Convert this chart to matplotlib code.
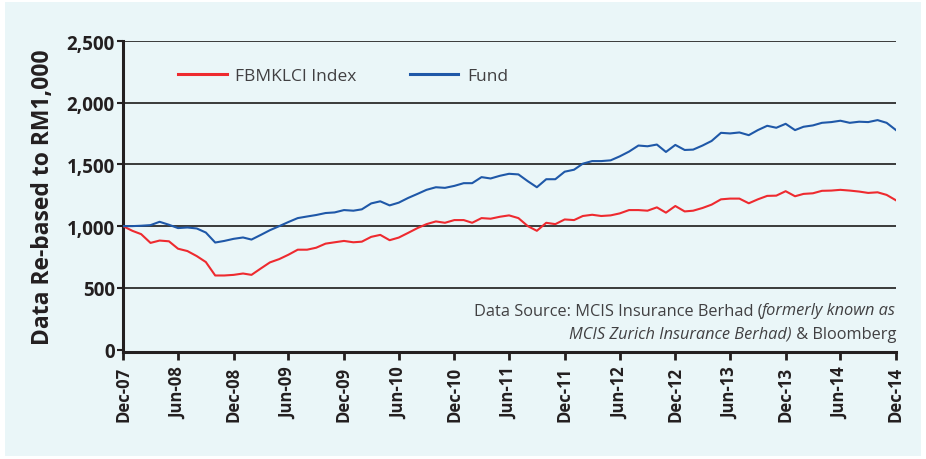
import matplotlib
matplotlib.use("Agg")
import matplotlib.pyplot as plt
from matplotlib.patches import Rectangle
import pandas as pd

# monthly values, Dec-07 .. Dec-14, re-based to RM1,000
fund = [1000, 1000, 1003, 1008, 1035, 1011, 984, 989, 981, 948,
        867, 880, 897, 908, 891, 929, 967, 1000, 1033, 1065,
        1078, 1090, 1106, 1111, 1130, 1125, 1136, 1184, 1201, 1168,
        1190, 1228, 1261, 1294, 1315, 1310, 1326, 1348, 1348, 1397,
        1386, 1408, 1424, 1419, 1364, 1315, 1380, 1380, 1441, 1457,
        1506, 1527, 1527, 1533, 1565, 1604, 1653, 1647, 1661, 1601,
        1658, 1617, 1620, 1653, 1690, 1756, 1751, 1759, 1737, 1778,
        1813, 1797, 1829, 1778, 1805, 1816, 1837, 1843, 1854, 1837,
        1846, 1843, 1859, 1837, 1778]
klci = [1000, 962, 935, 864, 883, 877, 817, 798, 757, 709,
        600, 600, 605, 616, 605, 657, 706, 733, 768, 809,
        809, 825, 858, 869, 880, 869, 874, 913, 929, 886,
        907, 945, 984, 1016, 1038, 1027, 1049, 1049, 1027, 1065,
        1060, 1076, 1087, 1065, 1000, 962, 1027, 1016, 1054, 1049,
        1082, 1092, 1082, 1087, 1103, 1130, 1130, 1125, 1152, 1109,
        1163, 1119, 1125, 1147, 1174, 1217, 1223, 1223, 1185, 1217,
        1245, 1247, 1283, 1242, 1261, 1266, 1286, 1288, 1294, 1288,
        1280, 1269, 1274, 1253, 1209]
dates = pd.date_range("2007-12-31", periods=len(fund), freq="ME")
tick_labels = ["Dec-07", "Jun-08", "Dec-08", "Jun-09", "Dec-09", "Jun-10",
               "Dec-10", "Jun-11", "Dec-11", "Jun-12", "Dec-12", "Jun-13",
               "Dec-13", "Jun-14", "Dec-14"]
y_ticks = [0, 500, 1000, 1500, 2000, 2500]

plt.rcParams['font.family'] = ['Open Sans', 'DejaVu Sans']
dark = "#231f20"
grey = "#414042"
bg = "#eaf6f8"

fig = plt.figure(figsize=(9.26, 4.6), dpi=100)
fig.patch.set_facecolor("white")
fig.patches.append(Rectangle((5 / 926, 3 / 460), 916 / 926, 454 / 460,
                             transform=fig.transFigure, facecolor=bg,
                             edgecolor="none", zorder=-10))

ax = fig.add_axes([123 / 926, 1 - 353 / 460, 773 / 926, 311 / 460])
ax.set_facecolor(bg)

ax.plot(dates, klci, color="#ee2a2f", lw=1.5, label="FBMKLCI Index", zorder=3)
ax.plot(dates, fund, color="#1f58a8", lw=1.5, label="Fund", zorder=3)

ax.set_ylim(-20, 2500)
ax.set_xlim(dates[0], dates[-1])
ax.set_yticks(y_ticks)
ax.set_yticklabels([f"{v:,}" for v in y_ticks])
ax.set_xticks(dates[::6])
ax.set_xticklabels(tick_labels, rotation=90)
for v in y_ticks[1:]:
    ax.axhline(v, color="#3a3a3a", lw=1.4, zorder=1)

for s in ["top", "right"]:
    ax.spines[s].set_visible(False)
for s in ["left", "bottom"]:
    ax.spines[s].set_color(dark)
    ax.spines[s].set_linewidth(2.2)
ax.tick_params(axis="y", length=4, width=1.5, color=dark, pad=2)
ax.tick_params(axis="x", length=6, width=2, color=dark, pad=4)
for lab in ax.get_yticklabels():
    lab.set_fontsize(13.5)
    lab.set_fontweight("bold")
    lab.set_color(dark)
for lab in ax.get_xticklabels():
    lab.set_fontsize(12)
    lab.set_fontweight("bold")
    lab.set_color(dark)

ax.set_ylabel("Data Re-based to RM1,000", fontsize=16.5, fontweight="bold",
              color=dark)
ax.yaxis.set_label_coords(-0.088, 0.5)

leg = ax.legend(loc="upper left", bbox_to_anchor=(0.051, 0.965), ncol=2,
                frameon=False, handlelength=2.8, columnspacing=3.05,
                handletextpad=0.5, prop={"size": 12.5})
for t in leg.get_texts():
    t.set_color(grey)
for h in leg.get_lines():
    h.set_linewidth(2.2)

# data source note, mixed regular / italic
fig.canvas.draw()
r = fig.canvas.get_renderer()
def note(x, y, parts):
    for txt, style in reversed(parts):
        t = fig.text(x / 926, 1 - y / 460, txt, ha="right", va="baseline",
                     fontsize=11.8, color=grey, style=style)
        x = t.get_window_extent(r).x0
note(896, 315, [("Data Source: MCIS Insurance Berhad (", "normal"),
                ("formerly known as", "italic")])
note(896, 339, [("MCIS Zurich Insurance Berhad)", "italic"),
                (" & Bloomberg", "normal")])

fig.savefig("out.png", dpi=100, facecolor=fig.get_facecolor())
